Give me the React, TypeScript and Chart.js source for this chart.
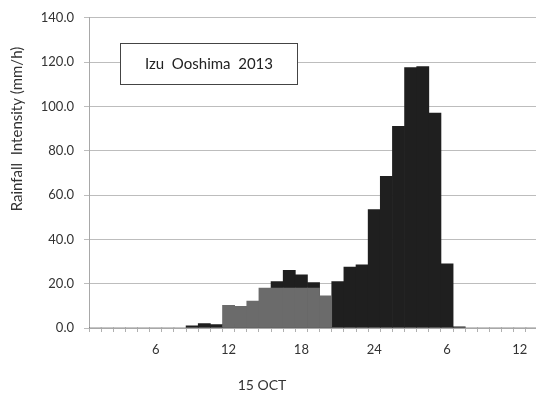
import React, { useEffect, useRef } from "react";
import { Chart, registerables } from "chart.js";

Chart.register(...registerables);

// Hour-of-day categories (15 Oct 01:00 → 16 Oct 13:00)
const hourLabels = [
  "1", "2", "3", "4", "5", "6", "7", "8", "9", "10", "11", "12",
  "13", "14", "15", "16", "17", "18", "19", "20", "21", "22", "23", "24",
  "1", "2", "3", "4", "5", "6", "7", "8", "9", "10", "11", "12", "13",
];
const shownTickIndex = [5, 11, 17, 23, 29, 35];

// Black series (rainfall intensity, mm/h)
const blackSeries = [
  0, 0, 0, 0, 0, 0, 0, 0, 1, 2, 1.5, 1.5,
  1.5, 1.5, 1.5, 21, 26, 24, 20.5, 14, 21, 27.5, 28.5, 53.5,
  68.5, 91, 117.5, 118, 97, 29, 0.5, 0, 0, 0, 0, 0, 0,
];
// Gray series (highlighted period)
const graySeries = [
  null, null, null, null, null, null, null, null, null, null, null, 10.2,
  9.8, 12.2, 18, 18, 18, 18, 18, 14.5, null, null, null, null,
  null, null, null, null, null, null, null, null, null, null, null, null, null,
];

const yTitle = "Rainfall  Intensity (mm/h)";
const xTitle = "15 OCT";
const boxTitle = "Izu  Ooshima  2013";

const FONT = "Lato, 'Open Sans', sans-serif";

export default function App() {
  const ref = useRef<HTMLCanvasElement | null>(null);

  useEffect(() => {
    if (!ref.current) return;
    const textPlugin = {
      id: "extraText",
      afterDraw(chart: any) {
        const ctx = chart.ctx as CanvasRenderingContext2D;
        ctx.save();
        ctx.fillStyle = "#333";
        ctx.font = `15px ${FONT}`;
        ctx.textAlign = "center";
        ctx.textBaseline = "middle";
        ctx.translate(17, 129);
        ctx.rotate(-Math.PI / 2);
        ctx.fillText(yTitle, 0, 0);
        ctx.restore();

        ctx.save();
        ctx.fillStyle = "#333";
        ctx.font = `14px ${FONT}`;
        ctx.textAlign = "center";
        ctx.textBaseline = "middle";
        ctx.fillText(xTitle, 262, 385);
        ctx.restore();

        ctx.save();
        ctx.fillStyle = "#ffffff";
        ctx.fillRect(120.5, 43.5, 177, 41);
        ctx.strokeStyle = "#444";
        ctx.lineWidth = 1;
        ctx.strokeRect(120.5, 43.5, 177, 41);
        ctx.fillStyle = "#222";
        ctx.font = `15px ${FONT}`;
        ctx.textAlign = "center";
        ctx.textBaseline = "middle";
        ctx.fillText(boxTitle, 209, 64);
        ctx.restore();
      },
    };

    const chart = new Chart(ref.current, {
      type: "bar",
      data: {
        labels: hourLabels,
        datasets: [
          {
            label: "gray",
            data: graySeries as any,
            backgroundColor: "#6b6b6b",
            borderWidth: 0,
            order: 0,
            grouped: false,
            barPercentage: 1,
            categoryPercentage: 1,
          },
          {
            label: "black",
            data: blackSeries,
            backgroundColor: "#1f1f1f",
            borderWidth: 0,
            order: 1,
            grouped: false,
            barPercentage: 1,
            categoryPercentage: 1,
          },
        ],
      },
      options: {
        animation: false,
        responsive: false,
        maintainAspectRatio: false,
        layout: { padding: { top: 17, left: 0, right: 0, bottom: 0 } },
        plugins: { legend: { display: false }, tooltip: { enabled: false } },
        scales: {
          x: {
            grid: {
              display: true,
              drawOnChartArea: false,
              drawTicks: true,
              tickLength: 4,
              color: "#b0b0b0",
              offset: true,
            },
            border: { color: "#a8a8a8" },
            ticks: {
              autoSkip: false,
              maxRotation: 0,
              minRotation: 0,
              padding: 10,
              color: "#333",
              font: { family: FONT, size: 13 },
              callback: (_v: any, i: number) =>
                shownTickIndex.includes(i) ? hourLabels[i] : "",
            },
            afterFit: (s: any) => {
              s.height = 73;
            },
          },
          y: {
            min: 0,
            max: 140,
            grid: { color: "#bdbdbd", tickLength: 5 },
            border: { color: "#a8a8a8" },
            ticks: {
              stepSize: 20,
              padding: 10,
              color: "#333",
              font: { family: FONT, size: 13 },
              callback: (v: any) => Number(v).toFixed(1),
            },
            afterFit: (s: any) => {
              s.width = 89;
            },
          },
        },
      },
      plugins: [textPlugin],
    });
    return () => chart.destroy();
  }, []);

  return (
    <div style={{ position: "absolute", left: 0, top: 0, width: 536, height: 401, overflow: "hidden", background: "#fff" }}>
      <canvas ref={ref} width={542} height={401} style={{ width: 542, height: 401, display: "block" }} />
    </div>
  );
}
